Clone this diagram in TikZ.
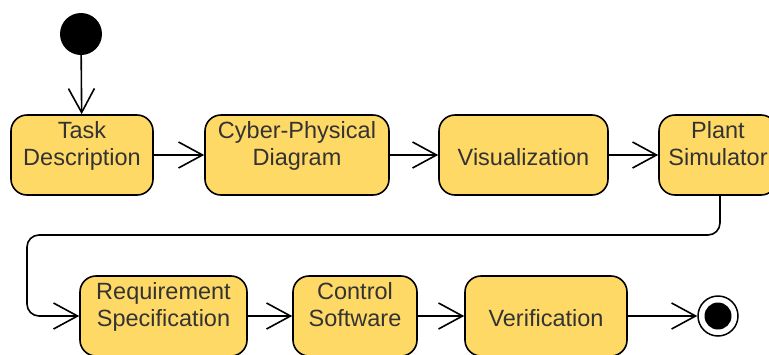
\documentclass[tikz,border=0pt]{standalone}
\usepackage{fontspec}
\setmainfont{Liberation Sans}
\usetikzlibrary{arrows.meta}
\definecolor{actfill}{HTML}{FFD966}
\definecolor{acttext}{HTML}{333333}
\begin{document}
\begin{tikzpicture}[x=1pt, y=-1pt,
  act/.style={draw=black, line width=1.6pt, fill=actfill, rounded corners=16pt,
    minimum height=80pt, inner sep=0pt, align=center, text=acttext,
    font=\fontsize{23.5}{27}\selectfont,
    text height=21.6pt, text depth=0pt},
  flow/.style={line width=1.6pt, -{Straight Barb[length=24pt, width=26pt, line width=1.6pt]}},
  ]
  \useasboundingbox (0,0) rectangle (769,354);

  % initial and final states
  \node[circle, fill=black, minimum size=42pt, inner sep=0pt] (start) at (81,34) {};
  \node[circle, draw=black, line width=1.5pt, fill=white, minimum size=40pt, inner sep=0pt] (stop) at (718,316) {};
  \node[circle, fill=black, minimum size=27pt, inner sep=0pt] (stopdot) at (stop.center) {};

  % activities, first row
  \node[act, minimum width=142pt] (task)  at (82,155)    {Task\\Description};
  \node[act, minimum width=184pt] (cpd)   at (297,155)   {Cyber-Physical\\Diagram};
  \node[act, minimum width=169pt] (vis)   at (523.5,155) {Visualization};
  \node[act, minimum width=118pt] (plant) at (718,155)   {Plant\\Simulator};

  % activities, second row
  \node[act, minimum width=167pt] (req)  at (163.5,316) {Requirement\\Specification};
  \node[act, minimum width=124pt] (ctrl) at (355,316)   {Control\\Software};
  \node[act, minimum width=162pt] (ver)  at (546,316)   {Verification};

  % control flow
  \coordinate (bend) at (27,235);
  \draw[flow] (start) -- (task);
  \draw[flow] (task) -- (cpd);
  \draw[flow] (cpd) -- (vis);
  \draw[flow] (vis) -- (plant);
  \draw[flow, rounded corners=12pt] ([xshift=2pt]plant.south) |- (bend) |- (req.west);
  \draw[flow] (req) -- (ctrl);
  \draw[flow] (ctrl) -- (ver);
  \draw[flow] (ver) -- (stop);
\end{tikzpicture}
\end{document}
